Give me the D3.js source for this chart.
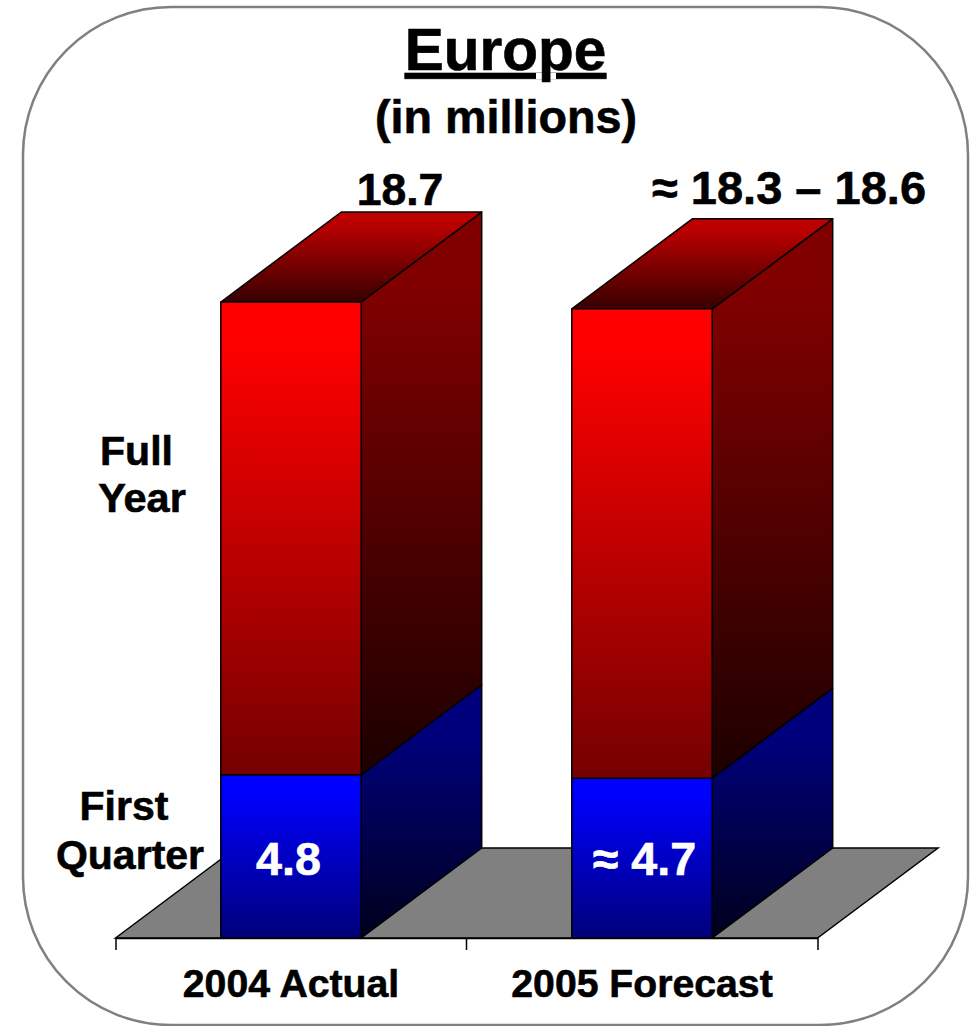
<!DOCTYPE html>
<html>
<head>
<meta charset="utf-8">
<script src="https://cdn.jsdelivr.net/npm/d3@7/dist/d3.min.js"></script>
<style>
  html, body { margin: 0; padding: 0; background: #fff; }
  svg { display: block; }
  text { font-family: "Liberation Sans", Arial, sans-serif; font-weight: bold; fill: #000; stroke: #000; stroke-width: 0.6px; }
</style>
</head>
<body>
<svg id="chart" width="971" height="1026"></svg>
<script>
// Series, in millions of units
const categories = ["2004 Actual", "2005 Forecast"];
const firstQuarter = [4.8, 4.7];
const fullYear = [18.7, 18.5];
const firstQuarterLabels = ["4.8", "≈ 4.7"];
const fullYearLabels = ["18.7", "≈ 18.3 – 18.6"];

const svg = d3.select("#chart");
const baseY = 938, depthX = 120.5, depthY = 90;

const x = d3.scaleBand().domain(categories).range([115.5, 817.5]);
const y = d3.scaleLinear().domain([0, 18.7]).range([baseY, 302]);
const barWidth = x.bandwidth() * 0.4;
const barLeft = c => x(c) + (x.bandwidth() - barWidth) / 2;

// Vertical gradients for the extruded faces
const defs = svg.append("defs");
const gradients = {
  redFront: [[0, "#ff0000"], [0.08, "#ff0000"], [1, "#750000"]],
  redSide: [[0, "#800000"], [0.14, "#800000"], [1, "#1c0000"]],
  redTop: [[0, "#c00000"], [0.15, "#b80000"], [1, "#380000"]],
  blueFront: [[0, "#0000ff"], [0.1, "#0000ff"], [1, "#00007a"]],
  blueSide: [[0, "#00007c"], [0.2, "#00007c"], [1, "#00001c"]]
};
Object.entries(gradients).forEach(([id, stops]) => {
  const g = defs.append("linearGradient").attr("id", id)
    .attr("x1", 0).attr("y1", 0).attr("x2", 0).attr("y2", 1);
  stops.forEach(([o, c]) => g.append("stop").attr("offset", o).attr("stop-color", c));
});

// Rounded panel behind the chart
svg.append("rect")
  .attr("x", 23).attr("y", 7).attr("width", 945).attr("height", 1018)
  .attr("rx", 148).attr("ry", 148)
  .attr("fill", "#fff").attr("stroke", "#808080").attr("stroke-width", 2.5);

// Floor of the 3D plot
const [rangeLeft, rangeRight] = x.range();
svg.append("path")
  .attr("d", `M${rangeLeft},${baseY}L${rangeLeft + depthX},${baseY - depthY}L${rangeRight + depthX},${baseY - depthY}L${rangeRight},${baseY}Z`)
  .attr("fill", "#808080").attr("stroke", "#000").attr("stroke-width", 1.5);

const poly = pts => "M" + pts.map(p => p.join(",")).join("L") + "Z";
const bars = svg.append("g").attr("stroke", "#000").attr("stroke-width", 1.5).attr("stroke-linejoin", "round");

categories.forEach((c, i) => {
  const l = barLeft(c), r = l + barWidth;
  const y0 = y(0), yQ = y(firstQuarter[i]), yF = y(fullYear[i]);
  // Side faces
  bars.append("path").attr("fill", "url(#blueSide)")
    .attr("d", poly([[r, y0], [r + depthX, y0 - depthY], [r + depthX, yQ - depthY], [r, yQ]]));
  bars.append("path").attr("fill", "url(#redSide)")
    .attr("d", poly([[r, yQ], [r + depthX, yQ - depthY], [r + depthX, yF - depthY], [r, yF]]));
  // Top face
  bars.append("path").attr("fill", "url(#redTop)")
    .attr("d", poly([[l, yF], [l + depthX, yF - depthY], [r + depthX, yF - depthY], [r, yF]]));
  // Front faces
  bars.append("rect").attr("fill", "url(#blueFront)")
    .attr("x", l).attr("y", yQ).attr("width", barWidth).attr("height", y0 - yQ);
  bars.append("rect").attr("fill", "url(#redFront)")
    .attr("x", l).attr("y", yF).attr("width", barWidth).attr("height", yQ - yF);
});

// Category axis: outer ticks come from the axis, the middle one from the band edge
const axis = svg.append("g").attr("transform", `translate(0,${baseY})`)
  .call(d3.axisBottom(x).tickSize(0).tickSizeOuter(12).tickPadding(0));
axis.selectAll("path").attr("stroke", "#000").attr("stroke-width", 1.5).attr("fill", "none");
axis.selectAll("text")
  .attr("y", 59).attr("dy", 0)
  .style("font-size", "39.2px").style("font-family", '"Liberation Sans", Arial, sans-serif')
  .style("font-weight", "bold");
axis.append("line")
  .attr("x1", x(categories[1])).attr("x2", x(categories[1]))
  .attr("y1", 0).attr("y2", 12)
  .attr("stroke", "#000").attr("stroke-width", 1.5);

const label = (txt, cx, by, size, extra) => {
  const t = svg.append("text").attr("x", cx).attr("y", by)
    .attr("text-anchor", "middle").style("font-size", size + "px").text(txt);
  if (extra) extra(t);
  return t;
};
const white = t => t.style("fill", "#fff").style("stroke", "#fff");

// Headings
label("Europe", 505.5, 70, 58.5, t => t.style("text-decoration", "underline"));
label("(in millions)", 506, 133, 46.7);

// Totals above the bars and first-quarter values inside them
label(fullYearLabels[0], 400, 205, 44.5);
label(fullYearLabels[1], 789, 204, 47);
label(firstQuarterLabels[0], 288.5, 875, 46.7, white);
label(firstQuarterLabels[1], 644.5, 875, 46.7, white);

// Series names at the left
label("Full", 136.5, 465, 41);
label("Year", 142, 512, 41.5);
label("First", 124, 820, 41);
label("Quarter", 130, 869, 41);
</script>
</body>
</html>
